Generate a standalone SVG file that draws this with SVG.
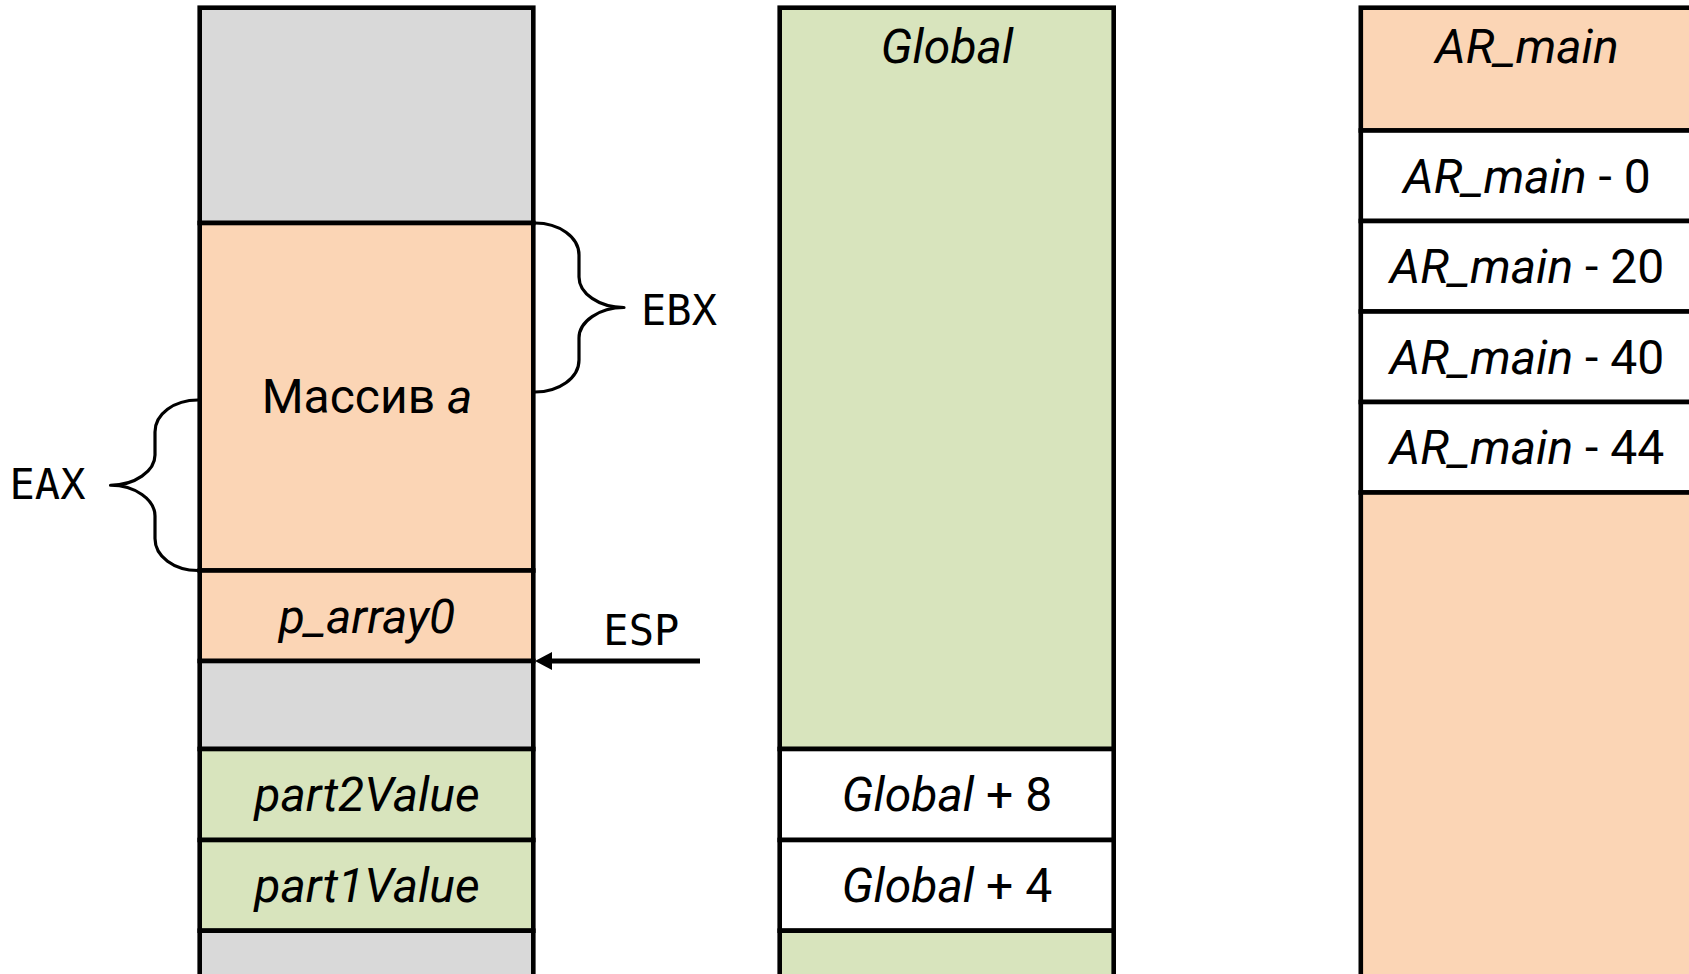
<svg xmlns="http://www.w3.org/2000/svg" width="1689" height="974" viewBox="0 0 1689 974">
  <style>
    .cell { stroke: #000; stroke-width: 4.6; stroke-linejoin: miter; }
    .gray { fill: #d9d9d9; }
    .peach { fill: #fbd5b5; }
    .green { fill: #d8e4bd; }
    .white { fill: #ffffff; }
    .lbl { font-family: Roboto, "Noto Sans", sans-serif; font-size: 48px; fill: #000; text-anchor: middle; }
    .it { font-style: italic; }
    .reg { font-family: "DejaVu Sans Mono", "Liberation Mono", monospace; font-size: 42px; fill: #000; text-anchor: middle; }
    .brace { fill: none; stroke: #000; stroke-width: 3.2; stroke-linecap: round; stroke-linejoin: round; }
    .arrow { fill: none; stroke: #000; stroke-width: 5; }
  </style>
  <defs>
    <marker id="head" markerUnits="userSpaceOnUse" markerWidth="18" markerHeight="20" refX="2" refY="9" orient="auto">
      <path d="M0,0 L17,9 L0,18 z" fill="#000"/>
    </marker>
  </defs>
  <rect width="1689" height="974" fill="#ffffff"/>

  <!-- Stack (left column) -->
  <g id="stack">
    <g id="stack-top"><rect class="cell gray" x="199.7" y="7.7" width="333.6" height="215.3"/></g>
    <g id="array-a">
      <rect class="cell peach" x="199.7" y="223" width="333.6" height="347.5"/>
      <text class="lbl" x="367" y="413">Массив <tspan class="it">a</tspan></text>
    </g>
    <g id="p-array0">
      <rect class="cell peach" x="199.7" y="570.5" width="333.6" height="90.5"/>
      <text class="lbl it" x="367" y="632.5">p_array0</text>
    </g>
    <g id="stack-free"><rect class="cell gray" x="199.7" y="661" width="333.6" height="88"/></g>
    <g id="part2Value">
      <rect class="cell green" x="199.7" y="749" width="333.6" height="91"/>
      <text class="lbl it" x="367" y="810.5">part2Value</text>
    </g>
    <g id="part1Value">
      <rect class="cell green" x="199.7" y="840" width="333.6" height="90.7"/>
      <text class="lbl it" x="367" y="901.5">part1Value</text>
    </g>
    <g id="stack-bottom"><rect class="cell gray" x="199.7" y="930.7" width="333.6" height="70"/></g>
  </g>

  <!-- Global data segment (middle column) -->
  <g id="global">
    <g id="global-area">
      <rect class="cell green" x="779.7" y="7.7" width="334" height="741.3"/>
      <text class="lbl it" x="947" y="62.5">Global</text>
    </g>
    <g id="global-8">
      <rect class="cell white" x="779.7" y="749" width="334" height="91"/>
      <text class="lbl" x="947" y="810.5"><tspan class="it">Global</tspan> + 8</text>
    </g>
    <g id="global-4">
      <rect class="cell white" x="779.7" y="840" width="334" height="90.7"/>
      <text class="lbl" x="947" y="901.5"><tspan class="it">Global</tspan> + 4</text>
    </g>
    <g id="global-tail"><rect class="cell green" x="779.7" y="930.7" width="334" height="70"/></g>
  </g>

  <!-- Activation record of main (right column) -->
  <g id="ar-main">
    <g id="ar-head">
      <rect class="cell peach" x="1360.8" y="7.7" width="334" height="122.8"/>
      <text class="lbl it" x="1527" y="62.5">AR_main</text>
    </g>
    <g id="ar-0">
      <rect class="cell white" x="1360.8" y="130.5" width="334" height="90.5"/>
      <text class="lbl" x="1527" y="192.5"><tspan class="it">AR_main</tspan> - 0</text>
    </g>
    <g id="ar-20">
      <rect class="cell white" x="1360.8" y="221" width="334" height="90.5"/>
      <text class="lbl" x="1527" y="283"><tspan class="it">AR_main</tspan> - 20</text>
    </g>
    <g id="ar-40">
      <rect class="cell white" x="1360.8" y="311.5" width="334" height="90.5"/>
      <text class="lbl" x="1527" y="373.5"><tspan class="it">AR_main</tspan> - 40</text>
    </g>
    <g id="ar-44">
      <rect class="cell white" x="1360.8" y="402" width="334" height="90.5"/>
      <text class="lbl" x="1527" y="463.5"><tspan class="it">AR_main</tspan> - 44</text>
    </g>
    <g id="ar-rest"><rect class="cell peach" x="1360.8" y="492.5" width="334" height="510"/></g>
  </g>

  <!-- Register pointers -->
  <g id="connectors">
    <g id="ebx">
      <path class="brace" d="M535,223 C559,223 579,237 579,255 L579,277 C579,293.5 599,307.5 624,307.5 C599,307.5 579,321.5 579,338 L579,360 C579,378 559,392 535,392"/>
      <text class="reg" x="679" y="325">EBX</text>
    </g>
    <g id="eax">
      <path class="brace" d="M198,400 C174,400 155,414 155,432 L155,455 C155,471 135,485.25 110.5,485.25 C135,485.25 155,499.5 155,516 L155,538.5 C155,556.5 174,570.5 198,570.5"/>
      <text class="reg" x="47.5" y="499.3">EAX</text>
    </g>
    <g id="esp">
      <line class="arrow" x1="700" y1="661" x2="550" y2="661" marker-end="url(#head)"/>
      <text class="reg" x="641.3" y="645">ESP</text>
    </g>
  </g>
</svg>
